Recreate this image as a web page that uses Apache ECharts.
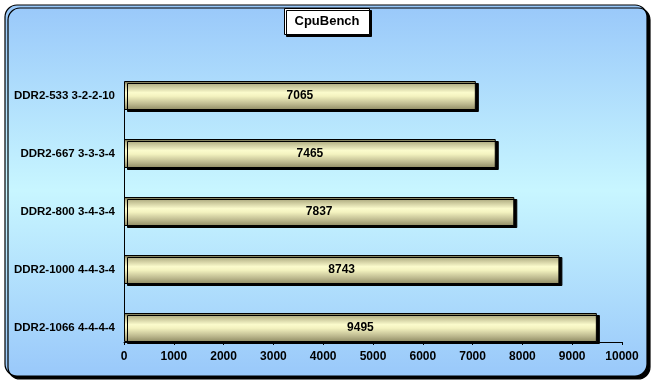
<!DOCTYPE html>
<html><head><meta charset="utf-8">
<script src="https://cdn.jsdelivr.net/npm/echarts@6/dist/echarts.min.js"></script>
<style>html,body{margin:0;padding:0;background:#fff}#c{width:654px;height:384px}</style>
</head><body><div id="c"></div>
<script>
const categories = ['DDR2-533 3-2-2-10','DDR2-667 3-3-3-4','DDR2-800 3-4-3-4','DDR2-1000 4-4-3-4','DDR2-1066 4-4-4-4'];
const values = [7065, 7465, 7837, 8743, 9495];
const xTicks = {min:0, max:10000, interval:1000};
const font = 'Arial, "Liberation Sans", sans-serif';

const chart = echarts.init(document.getElementById('c'), null, {renderer:'canvas'});
chart.setOption({
  animation:false,
  graphic:[{
    type:'rect', z:-10, silent:true,
    shape:{x:5, y:5, width:642, height:371, r:12},
    style:{
      fill:new echarts.graphic.LinearGradient(0,0,0,1,[
        {offset:0,color:'#99c8fa'},{offset:0.5,color:'#c8f6ff'},{offset:1,color:'#99c8fa'}]),
      stroke:'#000', lineWidth:1.2,
      shadowColor:'#000', shadowOffsetX:3, shadowOffsetY:3, shadowBlur:0
    }
  }],
  title:{
    text:'CpuBench', left:'center', top:8,
    backgroundColor:'#fff', borderColor:'#000', borderWidth:1,
    padding:[7,10,7,10],
    shadowColor:'#000', shadowOffsetX:2, shadowOffsetY:2, shadowBlur:0,
    textStyle:{fontFamily:font, fontWeight:'bold', fontSize:13, color:'#000'}
  },
  grid:{left:124, right:32, top:66.5, bottom:27.5, containLabel:false},
  xAxis:{
    type:'value', min:xTicks.min, max:xTicks.max, interval:xTicks.interval,
    offset:-14.5,
    axisLine:{show:true, lineStyle:{color:'#000', width:1}},
    axisTick:{show:true, length:3, lineStyle:{color:'#000'}},
    splitLine:{show:false},
    axisLabel:{color:'#000', fontFamily:font, fontWeight:'bold', fontSize:12, margin:9,
      formatter:function(v){return String(v);}}
  },
  yAxis:{
    type:'category', data:categories, inverse:true,
    axisLine:{show:false},
    axisTick:{show:false},
    axisLabel:{color:'#000', fontFamily:font, fontWeight:'bold', fontSize:11.5, margin:9}
  },
  series:[{
    type:'bar', data:values, barWidth:29,
    itemStyle:{
      color:new echarts.graphic.LinearGradient(0,0,0,1,[
        {offset:0,color:'#5f5d40'},{offset:0.12,color:'#b8b58a'},{offset:0.4,color:'#fbfbcc'},
        {offset:0.52,color:'#f4f3c0'},{offset:0.8,color:'#bcb88e'},{offset:1,color:'#8e8a62'}]),
      borderColor:'#000', borderWidth:1,
      shadowColor:'#000', shadowOffsetX:3, shadowOffsetY:2, shadowBlur:0
    },
    label:{show:true, position:'inside', color:'#000', fontFamily:font, fontWeight:'bold', fontSize:12},
    markLine:{
      silent:true, symbol:'none', label:{show:false},
      lineStyle:{color:'#000', width:1, type:'solid'},
      data:[[{coord:[0, categories[0]]},{coord:[0, categories[categories.length-1]]}]]
    }
  }]
});
</script></body></html>
